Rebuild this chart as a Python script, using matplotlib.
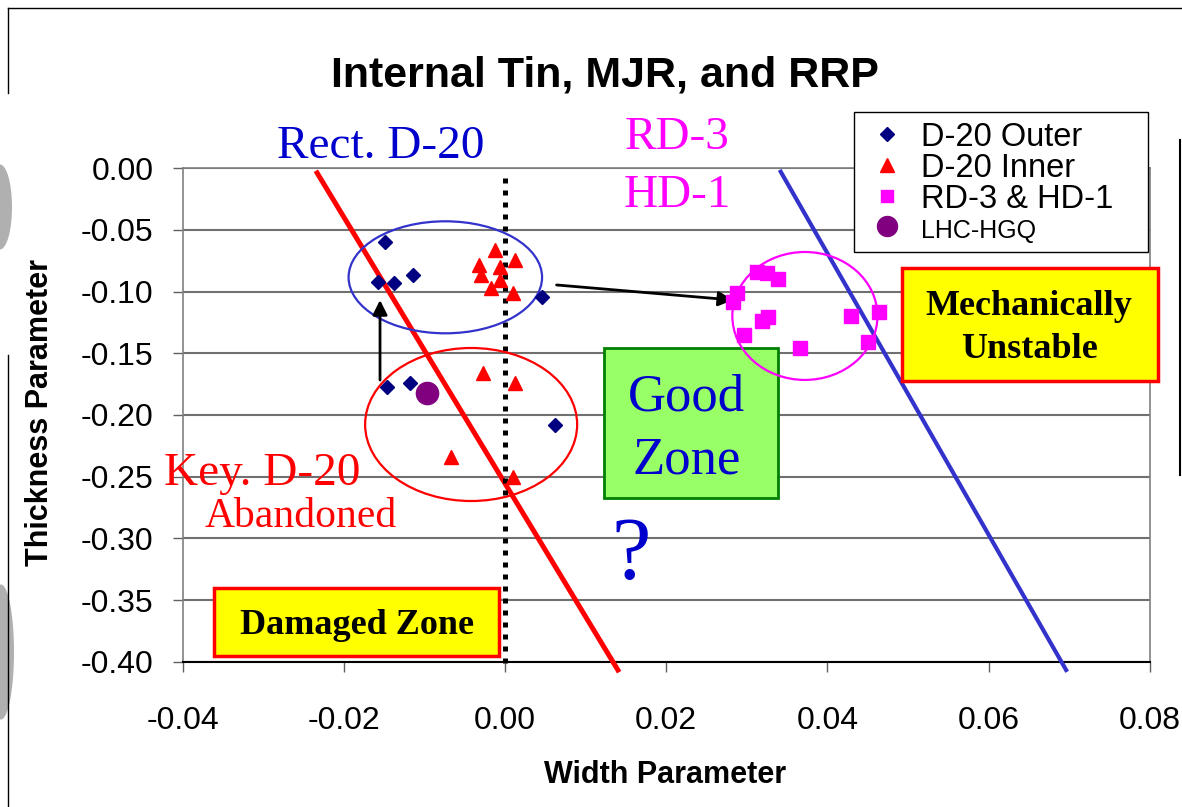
import matplotlib.pyplot as plt
from matplotlib.patches import Ellipse, Rectangle
from matplotlib.lines import Line2D

# D-20 outer coil
outer_w = [-0.0149, -0.0158, -0.0138, -0.0114, 0.0046, -0.0146, -0.0118, 0.0062]
outer_t = [-0.060, -0.092, -0.093, -0.087, -0.1045, -0.177, -0.174, -0.208]

# D-20 inner coil
inner_w = [-0.0012, -0.0032, 0.0012, -0.0006, -0.0030, -0.0006, -0.0017, 0.0010,
           -0.0027, 0.0012, -0.0067, 0.0010]
inner_t = [-0.066, -0.0785, -0.0745, -0.080, -0.0865, -0.0905, -0.097, -0.101,
           -0.166, -0.174, -0.234, -0.250]

# RD-3 & HD-1
rd_w = [0.0313, 0.0325, 0.0339, 0.0288, 0.0283, 0.0326, 0.0319, 0.0296,
        0.0366, 0.0429, 0.0464, 0.0450]
rd_t = [-0.084, -0.085, -0.090, -0.101, -0.1085, -0.1205, -0.124, -0.135,
        -0.1455, -0.120, -0.1165, -0.141]

# LHC-HGQ
lhc_w = [-0.0097]
lhc_t = [-0.182]

# boundary lines
red_w = [-0.0233, 0.0140]
red_t = [-0.004, -0.4065]
blue_w = [0.0342, 0.0696]
blue_t = [-0.003, -0.4065]

x_ticks = [-0.04, -0.02, 0.00, 0.02, 0.04, 0.06, 0.08]
y_ticks = [0.00, -0.05, -0.10, -0.15, -0.20, -0.25, -0.30, -0.35, -0.40]

sans = 'Liberation Sans'
serif = 'Liberation Serif'
plt.rcParams['font.family'] = [sans, 'DejaVu Sans']

fig = plt.figure(figsize=(11.82, 8.07), dpi=100)
ax = fig.add_axes([0.1544, 0.1797, 0.8185, 0.6121])
ax.set_xlim(-0.04, 0.08)
ax.set_ylim(-0.40, 0.0)

ax.set_xticks(x_ticks)
ax.set_xticklabels(['%.2f' % v for v in x_ticks])
ax.set_yticks(y_ticks)
ax.set_yticklabels(['%.2f' % v if v != 0 else '0.00' for v in y_ticks])
ax.tick_params(axis='both', labelsize=23, length=7, width=1, color='#606060', direction='out')
ax.tick_params(axis='x', pad=25)
ax.tick_params(axis='y', pad=14)
ax.yaxis.grid(True, color='#707070', linewidth=1.5)
ax.set_axisbelow(True)
for s in ['top', 'right', 'left']:
    ax.spines[s].set_color('#808080')
    ax.spines[s].set_linewidth(1.2)
ax.spines['bottom'].set_color('black')
ax.spines['bottom'].set_linewidth(1.5)

# boundary lines
ax.plot(red_w, red_t, color='#FF0000', lw=3.6, clip_on=False, zorder=3)
ax.plot(blue_w, blue_t, color='#3333CC', lw=3.0, clip_on=False, zorder=3)
ax.plot([0, 0], [-0.008, -0.405], color='black', lw=3.6,
        linestyle=(0, (1, 1.4)), dash_capstyle='butt', clip_on=False, zorder=3)

# groupings
ax.add_patch(Ellipse((-0.0074, -0.0885), 0.0240, 0.0907, fill=False,
                     edgecolor='#3333CC', lw=1.6, zorder=3))
ax.add_patch(Ellipse((-0.0042, -0.2077), 0.0263, 0.1239, fill=False,
                     edgecolor='#FF0000', lw=1.6, zorder=3))
ax.add_patch(Ellipse((0.0372, -0.1198), 0.0180, 0.1036, fill=False,
                     edgecolor='#FF00FF', lw=1.6, zorder=3))

# zone boxes
ax.add_patch(Rectangle((0.0123, -0.2672), 0.0216, 0.1215, facecolor='#99FF66',
                       edgecolor='#008000', lw=2, zorder=2))
ax.add_patch(Rectangle((-0.0361, -0.3951), 0.0354, 0.0550, facecolor='#FFFF00',
                       edgecolor='#FF0000', lw=2.5, zorder=2))
ax.add_patch(Rectangle((0.0492, -0.1725), 0.0318, 0.0915, facecolor='#FFFF00',
                       edgecolor='#FF0000', lw=2.5, zorder=6, clip_on=False))

# data
ax.plot(outer_w, outer_t, 'D', color='#000080', ms=7.5, ls='none', zorder=5, label='D-20 Outer')
ax.plot(inner_w, inner_t, '^', color='#FF0000', ms=10.5, ls='none', zorder=5, label='D-20 Inner')
ax.plot(rd_w, rd_t, 's', color='#FF00FF', ms=10, ls='none', zorder=5, label='RD-3 & HD-1')
ax.plot(lhc_w, lhc_t, 'o', color='#800080', ms=16, ls='none', zorder=5, label='LHC-HGQ')

# arrows
ax.annotate('', xy=(-0.0155, -0.1069), xytext=(-0.0155, -0.1717),
            arrowprops=dict(arrowstyle='-|>', color='black', lw=2, mutation_scale=22,
                            shrinkA=0, shrinkB=0), zorder=4)
ax.annotate('', xy=(0.0283, -0.1069), xytext=(0.0064, -0.0947),
            arrowprops=dict(arrowstyle='-|>', color='black', lw=2, mutation_scale=22,
                            shrinkA=0, shrinkB=0), zorder=4)

# labels on the chart
ax.text(-0.0154, 0.0081, 'Rect. D-20', family=serif, fontsize=34, color='#0000CC',
        ha='center', va='baseline')
ax.text(0.0214, 0.0154, 'RD-3', family=serif, fontsize=34, color='#FF00FF',
        ha='center', va='baseline')
ax.text(0.0214, -0.0316, 'HD-1', family=serif, fontsize=34, color='#FF00FF',
        ha='center', va='baseline')
ax.text(-0.0301, -0.2567, 'Key. D-20', family=serif, fontsize=34, color='#FF0000',
        ha='center', va='baseline', zorder=6)
ax.text(-0.0253, -0.2907, 'Abandoned', family=serif, fontsize=30, color='#FF0000',
        ha='center', va='baseline', zorder=6)
ax.text(0.0225, -0.196, 'Good', family=serif, fontsize=38, color='#0000CC',
        ha='center', va='baseline', zorder=6)
ax.text(0.0225, -0.247, 'Zone', family=serif, fontsize=38, color='#0000CC',
        ha='center', va='baseline', zorder=6)
ax.text(0.0157, -0.332, '?', family=serif, fontsize=64, color='#0000CC',
        ha='center', va='baseline', zorder=6)
ax.text(-0.0184, -0.3773, 'Damaged Zone', family=serif, fontsize=26, weight='bold',
        ha='center', va='baseline', zorder=6)
ax.text(0.0650, -0.119, 'Mechanically', family=serif, fontsize=26, weight='bold',
        ha='center', va='baseline', zorder=7)
ax.text(0.0650, -0.1538, 'Unstable', family=serif, fontsize=26, weight='bold',
        ha='center', va='baseline', zorder=7)

fig.text(0.512, 0.893, 'Internal Tin, MJR, and RRP', fontsize=31, weight='bold',
         ha='center', va='baseline')
fig.text(0.563, 0.040, 'Width Parameter', fontsize=22, weight='bold', ha='center', va='center')
fig.text(0.034, 0.489, 'Thickness Parameter', fontsize=22, weight='bold',
         ha='center', va='center', rotation=90)

leg = fig.legend(loc='upper left', mode='expand',
                 bbox_to_anchor=(854 / 1182, 1 - 250 / 807, 294 / 1182, 138 / 807),
                 borderaxespad=0, fontsize=23.5, frameon=True, fancybox=False,
                 edgecolor='black', framealpha=1, labelspacing=0.0,
                 handlelength=1.4, handletextpad=0.35, borderpad=0.3, markerscale=0.9)
leg.get_frame().set_linewidth(1.0)
leg.get_texts()[3].set_fontsize(18)

# page frame fragments and scan marks
fig.add_artist(Line2D([8 / 1182, 1], [1 - 8 / 807] * 2, color='black', lw=1))
fig.add_artist(Line2D([8 / 1182] * 2, [1 - 8 / 807, 1 - 93 / 807], color='black', lw=1))
fig.add_artist(Line2D([8 / 1182] * 2, [1 - 355 / 807, 0], color='black', lw=1))
fig.add_artist(Line2D([1180 / 1182] * 2, [1 - 140 / 807, 1 - 475 / 807], color='black', lw=1.5))
fig.add_artist(Ellipse((0 / 1182, 1 - 207 / 807), 24 / 1182, 85 / 807,
                       transform=fig.transFigure, color='#B0B0B0', lw=0))
fig.add_artist(Ellipse((1 / 1182, 1 - 652 / 807), 26 / 1182, 135 / 807,
                       transform=fig.transFigure, color='#B0B0B0', lw=0))

fig.savefig('out.png', dpi=100)
